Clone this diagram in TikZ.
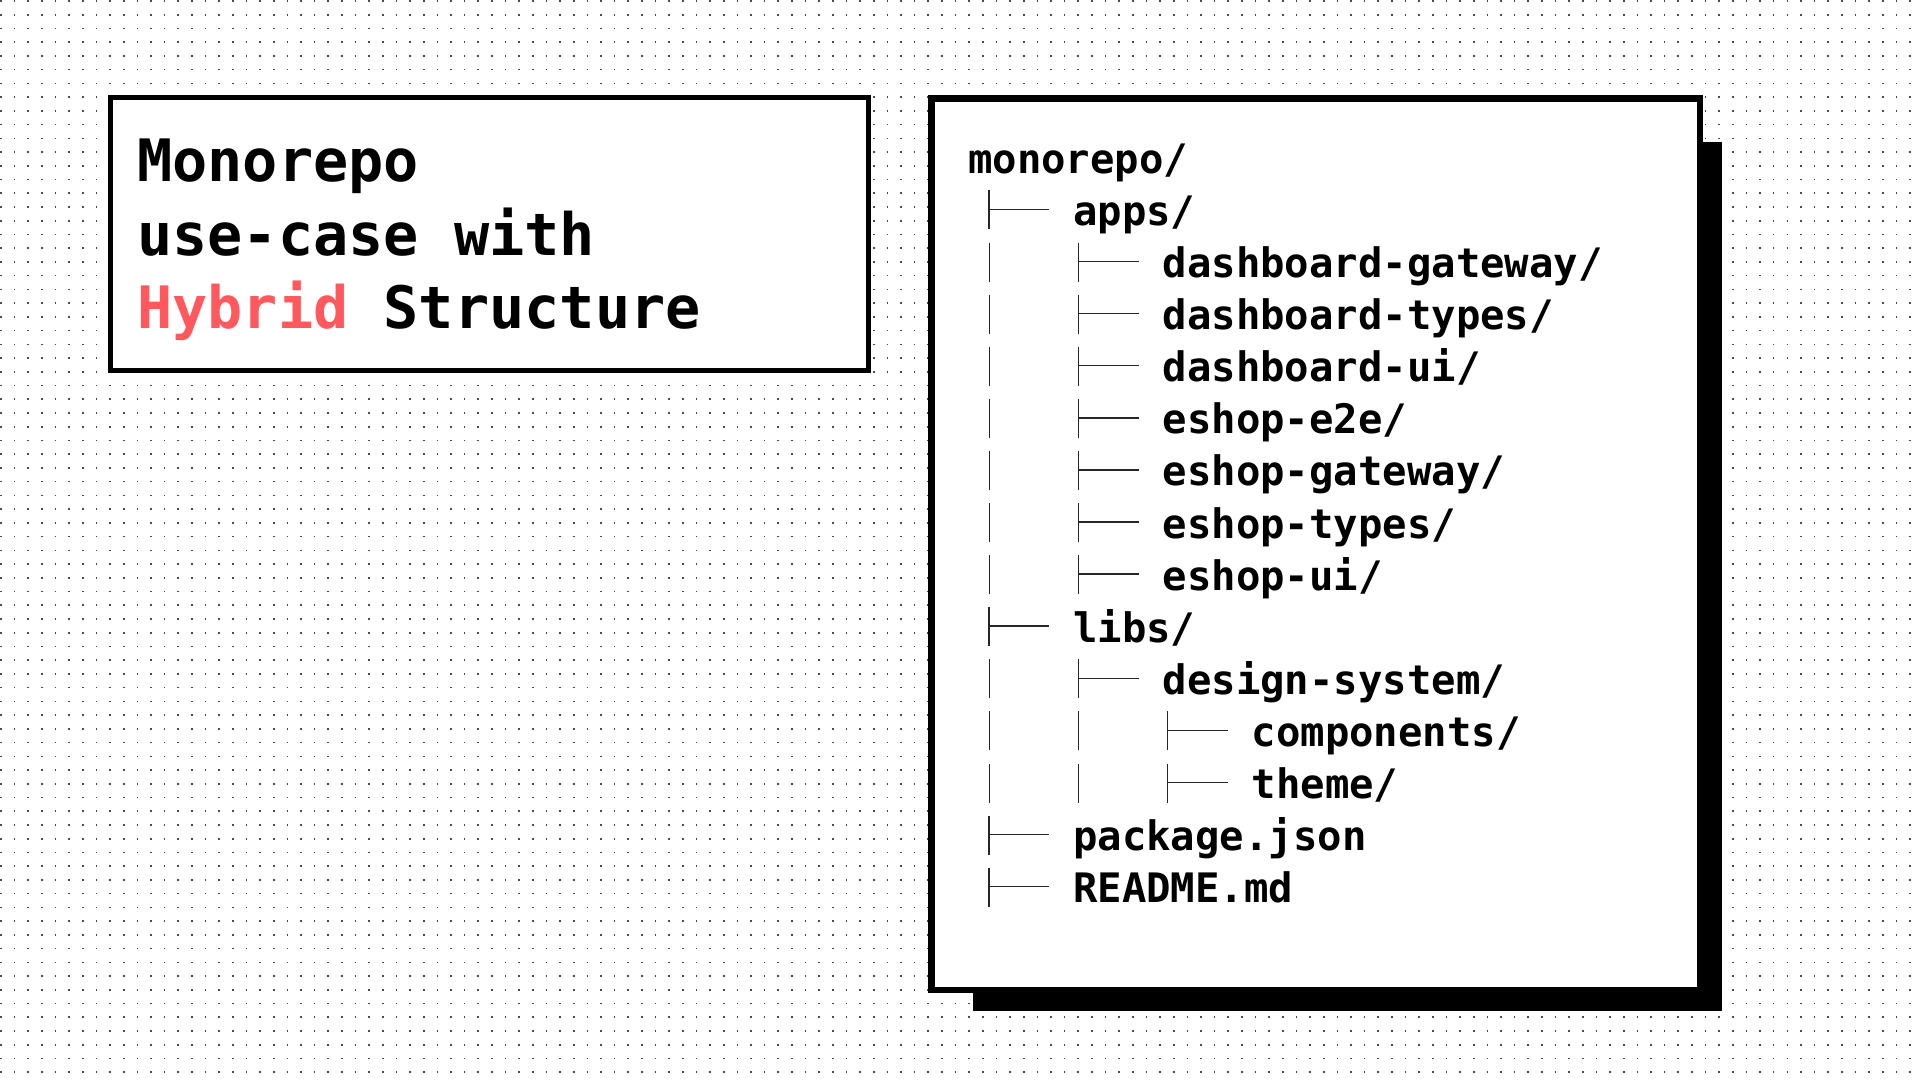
\documentclass[tikz,border=0pt]{standalone}
\usepackage{fontspec}
\newfontfamily\treemono{DejaVu Sans Mono}
\definecolor{hyred}{RGB}{255,88,93}
\newcommand\treetee[1]{\draw[treeline] ([shift={(-84,-35)}]#1.base west) -- ([shift={(-84,4)}]#1.base west)
  ([shift={(-84,-16)}]#1.base west) -- ([shift={(-24,-16)}]#1.base west);}
\newcommand\treebar[2]{\draw[treeline] ([shift={(#2,-35)}]#1.base west) -- ([shift={(#2,4)}]#1.base west);}
\begin{document}
\begin{tikzpicture}[x=1pt,y=-1pt,
  titletext/.style={anchor=base west, inner sep=0pt, font=\treemono\bfseries\fontsize{58.5}{70}\selectfont},
  rowtext/.style={anchor=base west, inner sep=0pt, font=\treemono\bfseries\fontsize{40.6}{48}\selectfont},
  treeline/.style={line width=1.5pt, black!85},
  dotrow/.style={line width=1.6pt, black!70, dash pattern=on 1.6pt off 12.036pt}]
\useasboundingbox (0,0) rectangle (1920,1080);
\fill[white] (0,0) rectangle (1920,1080);
% dot grid
\foreach \j in {0,...,78} \draw[dotrow] (0.2,{1+13.733*\j}) -- (1920,{1+13.733*\j});
% right panel with shadow
\fill[black] (972.7,141.7) rectangle (1721.5,1011);
\draw[line width=6.5pt, fill=white] (931.25,98.25) rectangle (1699.75,990);
% left title panel
\draw[line width=4.7pt, fill=white] (110.2,97.5) rectangle (868.5,370.8);
\node[titletext] (t1) at (137,181) {Monorepo};
\node[titletext] (t2) at (137,255) {use-case with};
\node[titletext] (t3) at (137,328.5) {\textcolor{hyred}{Hybrid} Structure};
% tree rows
\node[rowtext] (r0) at (968,173.3) {monorepo/};
\node[rowtext] (r1) at (1073,225.4) {apps/};
\node[rowtext] (r2) at (1162.5,277.5) {dashboard-gateway/};
\node[rowtext] (r3) at (1162.5,329.6) {dashboard-types/};
\node[rowtext] (r4) at (1162.5,381.7) {dashboard-ui/};
\node[rowtext] (r5) at (1162.5,433.8) {eshop-e2e/};
\node[rowtext] (r6) at (1162.5,485.9) {eshop-gateway/};
\node[rowtext] (r7) at (1162.5,538.0) {eshop-types/};
\node[rowtext] (r8) at (1162.5,590.1) {eshop-ui/};
\node[rowtext] (r9) at (1073,642.2) {libs/};
\node[rowtext] (r10) at (1162.5,694.3) {design-system/};
\node[rowtext] (r11) at (1251.5,746.4) {components/};
\node[rowtext] (r12) at (1251.5,798.5) {theme/};
\node[rowtext] (r13) at (1073,850.6) {package.json};
\node[rowtext] (r14) at (1073,902.7) {README.md};
% tree connectors
\foreach \r in {r1,r2,r3,r4,r5,r6,r7,r8,r9,r10,r11,r12,r13,r14} {\treetee{\r}}
\foreach \r in {r2,r3,r4,r5,r6,r7,r8,r10} {\treebar{\r}{-173.2}}
\foreach \r in {r11,r12} {\treebar{\r}{-262.2}\treebar{\r}{-173}}
\end{tikzpicture}
\end{document}
